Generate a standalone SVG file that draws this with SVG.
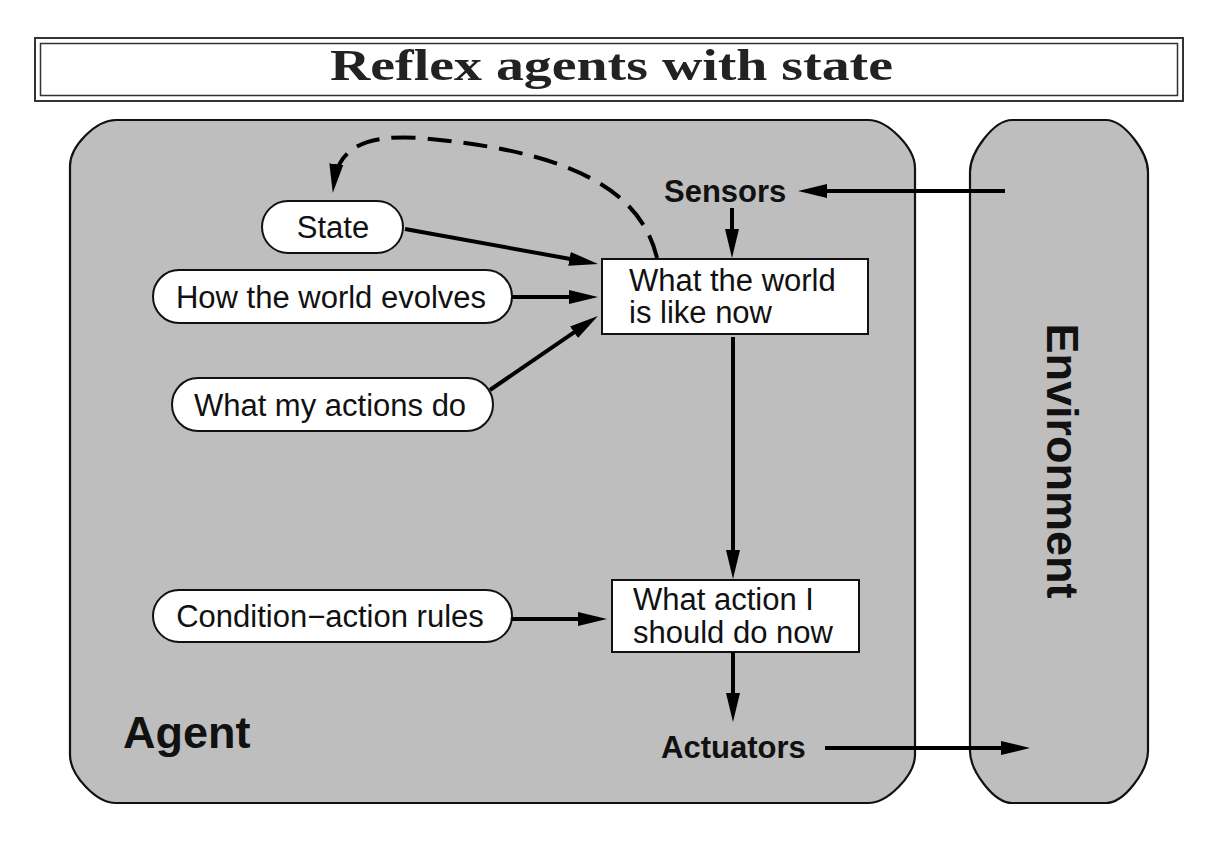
<svg xmlns="http://www.w3.org/2000/svg" width="1223" height="849" viewBox="0 0 1223 849">
<style>
.panel{fill:#bebebe;stroke:#111;stroke-width:2.2}
.pill{fill:#fff;stroke:#111;stroke-width:2}
.box{fill:#fff;stroke:#111;stroke-width:2}
.t{font-family:"Liberation Sans",Arial,sans-serif;font-size:31px;fill:#111}
.b{font-family:"Liberation Sans",Arial,sans-serif;font-weight:bold;fill:#111}
.c{text-anchor:middle}
.edge{fill:none;stroke:#000;stroke-width:4;marker-end:url(#ah)}
.dash{stroke-dasharray:24 12}
</style>
<defs>
<marker id="ah" markerUnits="userSpaceOnUse" markerWidth="32" markerHeight="16" viewBox="0 -8 32 16" refX="19" refY="0" orient="auto">
<path d="M0,-7 L29,0 L0,7 Z" fill="#000"/>
</marker>
</defs>
<rect width="1223" height="849" fill="#fff"/>
<g id="title">
<rect x="35" y="38" width="1148" height="63" fill="none" stroke="#333" stroke-width="2"/>
<rect x="40.5" y="43.5" width="1137" height="52" fill="none" stroke="#333" stroke-width="1.5"/>
<text x="330" y="80" textLength="563" lengthAdjust="spacingAndGlyphs" style="font-family:'Liberation Serif','Times New Roman',serif;font-weight:bold;font-size:44px;fill:#222">Reflex agents with state</text>
</g>
<g id="agent">
<path class="panel" d="M116,120 H868 C888,120 915,148 915,168 V755 C915,775 888,803 868,803 H116 C96,803 70,775 70,755 V166 C70,146 96,120 116,120 Z"/>
<text class="b" x="123" y="748" style="font-size:45px">Agent</text>
</g>
<g id="environment">
<path class="panel" d="M1012,120 H1106 C1124,120 1148,152 1148,172 V751 C1148,771 1124,803 1106,803 H1012 C994,803 970,771 970,751 V172 C970,152 994,120 1012,120 Z"/>
<text class="b c" transform="translate(1047,461) rotate(90)" style="font-size:45px">Environment</text>
</g>
<g id="sensors"><text class="b" x="664" y="202" style="font-size:31px">Sensors</text></g>
<g id="actuators"><text class="b" x="661" y="758" style="font-size:31px">Actuators</text></g>
<g id="state">
<rect class="pill" x="262" y="201" width="141" height="52" rx="26" ry="26"/>
<text class="t c" x="333" y="238">State</text>
</g>
<g id="world-evolves">
<rect class="pill" x="153" y="270" width="359" height="53" rx="26" ry="26.5"/>
<text class="t c" x="331" y="308">How the world evolves</text>
</g>
<g id="my-actions">
<rect class="pill" x="172" y="378" width="321" height="53" rx="26" ry="26.5"/>
<text class="t c" x="330" y="416">What my actions do</text>
</g>
<g id="rules">
<rect class="pill" x="153" y="590" width="359" height="52" rx="26" ry="26"/>
<text class="t c" x="330" y="627">Condition−action rules</text>
</g>
<g id="world-now">
<rect class="box" x="602" y="259" width="266" height="75"/>
<text class="t" x="629" y="291">What the world</text>
<text class="t" x="629" y="323">is like now</text>
</g>
<g id="action-now">
<rect class="box" x="612" y="580" width="247" height="72"/>
<text class="t" x="633" y="610">What action I</text>
<text class="t" x="633" y="643">should do now</text>
</g>
<g id="connectors">
<path class="edge" d="M1005,191 H808"/>
<path class="edge" d="M732,208 V248"/>
<path class="edge" d="M405,229 L588.2,262.2"/>
<path class="edge" d="M512,297 H588"/>
<path class="edge" d="M490,390 L589.7,321.6"/>
<path class="edge" d="M733,337 V569"/>
<path class="edge" d="M512,619 H597"/>
<path class="edge" d="M733,652 V712"/>
<path class="edge" d="M825,748 H1020"/>
<path class="edge dash" d="M657,258 C640,185 560,150 420,138 C362,134 338,150 334,183"/>
</g>
</svg>
